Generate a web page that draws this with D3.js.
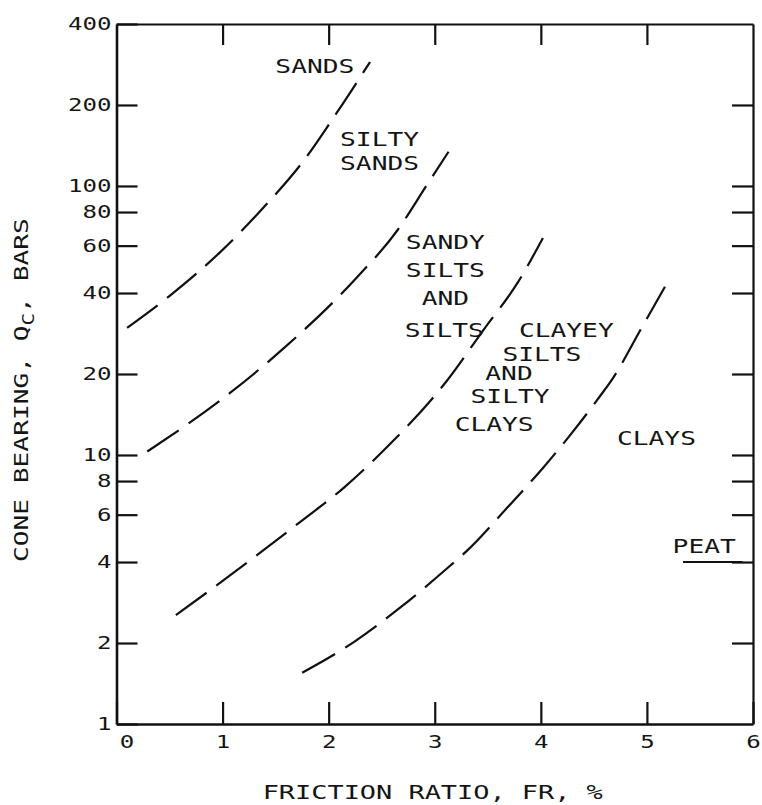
<!DOCTYPE html>
<html>
<head>
<meta charset="utf-8">
<script src="https://cdn.jsdelivr.net/npm/d3@7/dist/d3.min.js"></script>
<style>
  html, body { margin: 0; padding: 0; background: #fff; }
  svg { display: block; }
  text { font-family: "DejaVu Sans Mono", "Liberation Mono", monospace; fill: #151515; }
</style>
</head>
<body>
<svg id="chart" width="762" height="805"></svg>
<script>
// Friction ratio (%) axis ticks
const frictionTicks = [0, 1, 2, 3, 4, 5, 6];
// Cone bearing (bars) axis ticks, log scale
const bearingTicks = [1, 2, 4, 6, 8, 10, 20, 40, 60, 80, 100, 200, 400];
const bearingInnerTicks = [2, 4, 6, 8, 10, 20, 40, 60, 80, 100, 200];

// Zone boundaries: [friction ratio %, cone bearing bars]
const sandsBoundary = [[0.10, 29.7], [0.51, 39.3], [0.98, 56.9], [1.39, 83.5], [1.77, 125], [2.08, 188], [2.39, 289]];
const siltySandsBoundary = [[0.29, 10.3], [1.07, 17.0], [1.58, 25.0], [2.25, 45.0], [2.65, 68.6], [2.92, 100], [3.13, 134]];
const sandySiltsBoundary = [[0.56, 2.54], [0.95, 3.29], [1.73, 5.63], [2.15, 7.60], [2.55, 10.7], [3.12, 19.0], [3.46, 29.2], [3.78, 43.6], [4.02, 64.1]];
const clayeySiltsBoundary = [[1.75, 1.55], [2.24, 2.02], [2.67, 2.70], [3.12, 3.80], [3.31, 4.43], [3.68, 6.35], [4.02, 8.95], [4.28, 11.9], [4.53, 16.0], [4.68, 19.3], [4.94, 29.2], [5.17, 42.2]];

// Soil zone names, anchored at [friction ratio, cone bearing] (text baseline centre)
const zoneNames = ["SANDS", "SILTY", "SANDS", "SANDY", "SILTS", "AND", "SILTS", "CLAYEY", "SILTS", "AND", "SILTY", "CLAYS", "CLAYS", "PEAT"];
const zoneFR = [1.87, 2.48, 2.48, 3.10, 3.10, 3.10, 3.09, 4.24, 4.01, 3.70, 3.71, 3.56, 5.09, 5.54];
const zoneQC = [263, 140.8, 114.6, 58.3, 45.9, 36.1, 27.4, 27.4, 22.4, 19.0, 15.6, 12.3, 10.9, 4.32];
// Peat marker underline: friction ratio span at a cone bearing
const peatLineFR = [5.34, 5.90];
const peatLineQC = 4.0;

const svg = d3.select("#chart");
const plotLeft = 116.5, plotRight = 753, plotTop = 24, plotBottom = 724;

const x = d3.scaleLinear().domain([0, 6]).range([plotLeft, plotRight]);
const y = d3.scaleLog().domain([1, 400]).range([plotBottom, plotTop]);

// Stretch monospace text to a fixed advance per character
function stretch(sel, adv) {
  sel.each(function () {
    const t = d3.select(this);
    const n = t.text().length;
    t.attr("textLength", n * adv).attr("lengthAdjust", "spacingAndGlyphs");
  });
}

// Axes with inward ticks
const axBottom = svg.append("g").attr("transform", `translate(0,${plotBottom})`)
  .call(d3.axisBottom(x).tickValues(frictionTicks).tickSizeInner(-22).tickSizeOuter(0).tickPadding(11).tickFormat(d3.format("d")));
const axLeft = svg.append("g").attr("transform", `translate(${plotLeft},0)`)
  .call(d3.axisLeft(y).tickValues(bearingTicks).tickSizeInner(-21).tickSizeOuter(0).tickPadding(5).tickFormat(d3.format("d")));
const axTop = svg.append("g").attr("transform", `translate(0,${plotTop})`)
  .call(d3.axisTop(x).tickValues([1, 2, 3, 4, 5]).tickSizeInner(-21).tickSizeOuter(0).tickFormat(""));
const axRight = svg.append("g").attr("transform", `translate(${plotRight},0)`)
  .call(d3.axisRight(y).tickValues(bearingInnerTicks).tickSizeInner(-21).tickSizeOuter(0).tickFormat(""));

[axBottom, axLeft].forEach(a => {
  a.select(".domain").attr("stroke", "#111").attr("stroke-width", 2.6);
  a.selectAll(".tick line").attr("stroke", "#111").attr("stroke-width", 2.2);
});
[axTop, axRight].forEach(a => {
  a.select(".domain").attr("stroke", "#111").attr("stroke-width", 2.2);
  a.selectAll(".tick line").attr("stroke", "#111").attr("stroke-width", 2.2);
});

axBottom.selectAll(".tick text").attr("font-size", 18).attr("font-family", "DejaVu Sans Mono").attr("fill", "#151515").call(stretch, 14.5);
axBottom.selectAll(".tick text").filter(d => d === 0).attr("dx", 10);
axLeft.selectAll(".tick text").attr("font-size", 18).attr("font-family", "DejaVu Sans Mono").attr("fill", "#151515").call(stretch, 14.5);

// Zone boundary curves
const line = d3.line().x(d => x(d[0])).y(d => y(d[1])).curve(d3.curveMonotoneX);
[sandsBoundary, siltySandsBoundary, sandySiltsBoundary, clayeySiltsBoundary].forEach(pts => {
  svg.append("path").datum(pts).attr("d", line)
    .attr("fill", "none").attr("stroke", "#111").attr("stroke-width", 2.2)
    .attr("stroke-dasharray", "38,12");
});

// Zone names
svg.append("g").selectAll("text").data(zoneNames).join("text")
  .attr("x", (d, i) => x(zoneFR[i]))
  .attr("y", (d, i) => y(zoneQC[i]))
  .attr("text-anchor", "middle").attr("font-size", 19)
  .text(d => d)
  .call(stretch, 15.8);

// Peat underline
svg.append("line")
  .attr("x1", x(peatLineFR[0])).attr("x2", x(peatLineFR[1]))
  .attr("y1", y(peatLineQC)).attr("y2", y(peatLineQC))
  .attr("stroke", "#111").attr("stroke-width", 2);

// Axis titles
svg.append("text")
  .attr("x", x(3) - 2).attr("y", 799)
  .attr("text-anchor", "middle").attr("font-size", 20)
  .text("FRICTION RATIO, FR, %")
  .call(stretch, 16.2);

const yTitle = svg.append("text")
  .attr("transform", "translate(28,562) rotate(-90) scale(1.31,1)")
  .attr("font-size", 20);
yTitle.append("tspan").text("CONE BEARING, Q");
yTitle.append("tspan").attr("font-size", 16).attr("dy", 6).text("C");
yTitle.append("tspan").attr("dy", -6).text(", BARS");
</script>
</body>
</html>
